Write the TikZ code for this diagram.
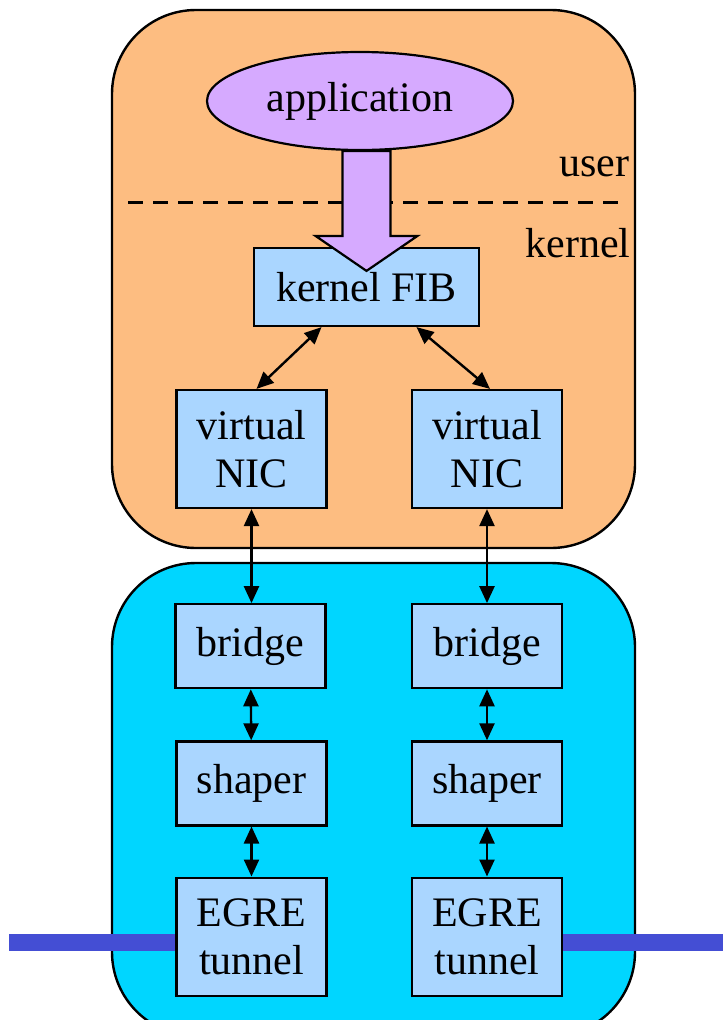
\documentclass[tikz,border=0pt]{standalone}
\usepackage{fontspec}
\setmainfont{Liberation Serif}
\usepackage{tikz}
\usetikzlibrary{positioning, shapes, arrows.meta, calc}

\definecolor{userorange}{RGB}{253,189,129}
\definecolor{netcyan}{RGB}{0,214,255}
\definecolor{boxblue}{RGB}{170,214,255}
\definecolor{apppurple}{RGB}{214,170,255}
\definecolor{linkblue}{RGB}{68,78,212}

\begin{document}
\begin{tikzpicture}[x=1pt, y=-1pt,
  every node/.style={font=\rmfamily\fontsize{42}{48}\selectfont},
  block/.style={draw, fill=boxblue, line width=2.2pt, inner sep=0pt, align=center, minimum width=150pt, minimum height=84pt},
  tallblock/.style={block, minimum height=118pt},
  link/.style={{Triangle[length=17pt,width=15pt]}-{Triangle[length=17pt,width=15pt]}, line width=2.4pt},
  node distance=50pt]
\useasboundingbox (0,0) rectangle (723,1020);

\draw[fill=userorange, line width=2.4pt, rounded corners=84pt] (112,10) rectangle (635,548);
\draw[fill=netcyan, line width=2.4pt, rounded corners=84pt] (112,563) rectangle (635,1036);

\node[ellipse, draw, fill=apppurple, line width=2.2pt, minimum width=306pt, minimum height=98pt, inner sep=0pt] (app) at (360,101) {application};
\node[anchor=east] (user) at (633,167) {user};
\node[anchor=east] (kern) at (634,243) {kernel};
\draw[line width=3pt, dash pattern=on 15pt off 10pt] (128,202) -- (619,202);

\node[block, minimum width=225pt, minimum height=78pt] (fib) at (366.5,287) {kernel FIB};

\path[fill=apppurple, draw, line width=2.2pt]
  ($(fib.north)+(-24,-96)$) -- ($(fib.north)+(-24,-11)$) -- ($(fib.north)+(-51,-11)$)
  -- ($(fib.north)+(0,24)$) -- ($(fib.north)+(51,-11)$) -- ($(fib.north)+(24,-11)$)
  -- ($(fib.north)+(24,-96)$) -- cycle;

\node[tallblock] (vnic1) at (251.5,449) {virtual\\NIC};
\node[tallblock] (vnic2) at (487,449) {virtual\\NIC};

\node[block, below=94pt of vnic1, xshift=-1pt] (bridge1) {bridge};
\node[block, below=51pt of bridge1, xshift=1pt] (shaper1) {shaper};
\node[tallblock, below=50pt of shaper1] (egre1) {EGRE\\tunnel};

\node[block, below=94pt of vnic2] (bridge2) {bridge};
\node[block, below=51pt of bridge2] (shaper2) {shaper};
\node[tallblock, below=50pt of shaper2] (egre2) {EGRE\\tunnel};

\draw[link] ($(fib.south)+(-45,0)$) -- ($(vnic1.north)+(5,0)$);
\draw[link] ($(fib.south)+(50,0)$) -- ($(vnic2.north)+(3,0)$);

\draw[link] (vnic1.south) -- (vnic1.south |- bridge1.north);
\draw[link] (vnic2.south) -- (vnic2.south |- bridge2.north);
\draw[link] (bridge1) -- (shaper1);
\draw[link] (bridge2) -- (shaper2);
\draw[link] (shaper1) -- (egre1);
\draw[link] (shaper2) -- (egre2);

% outside links
\coordinate (wanL) at (9,942);
\coordinate (wanR) at (723,942);
\draw[linkblue, line width=17pt] (wanL) -- (wanL -| egre1.west);
\draw[linkblue, line width=17pt] (egre2.east |- wanR) -- (wanR);
\end{tikzpicture}
\end{document}
